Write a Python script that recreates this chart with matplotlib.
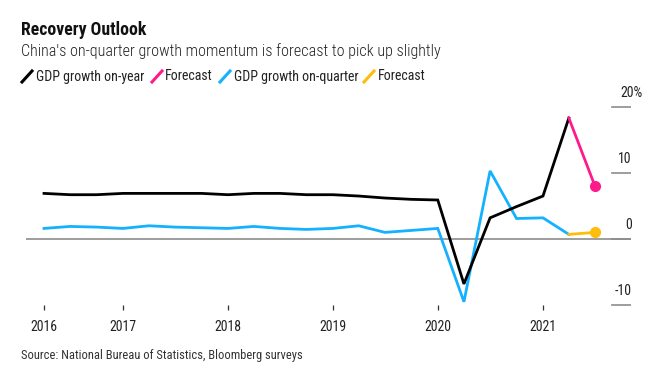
import matplotlib
matplotlib.use('Agg')
import matplotlib.pyplot as plt
import matplotlib.dates as mdates
from matplotlib.lines import Line2D
from matplotlib import font_manager
import pandas as pd

names = {f.name for f in font_manager.fontManager.ttflist}
narrow = [n for n in ['Roboto Condensed', 'Liberation Sans Narrow', 'Open Sans Condensed'] if n in names]
plt.rcParams['font.family'] = narrow + ['Roboto', 'DejaVu Sans']

# quarterly data, Q1 2016 .. Q1 2021 (quarter-end dates)
quarters = pd.date_range('2016-03-31', periods=21, freq='QE')
yoy = [6.9, 6.7, 6.7, 6.9, 6.9, 6.9, 6.9, 6.7, 6.9, 6.9, 6.7, 6.7,
       6.5, 6.2, 6.0, 5.9, -6.8, 3.2, 4.9, 6.5, 18.3]
qoq = [1.6, 1.9, 1.8, 1.6, 2.0, 1.8, 1.7, 1.6, 1.9, 1.6, 1.45, 1.6,
       2.0, 1.0, 1.3, 1.6, -9.5, 10.3, 3.1, 3.2, 0.7]
forecast_date = pd.Timestamp('2021-06-30')
yoy_forecast = 8.0
qoq_forecast = 1.0

year_ticks = [pd.Timestamp('2016-03-31')] + [pd.Timestamp(f'{y}-01-01') for y in range(2017, 2022)]
year_labels = ['2016', '2017', '2018', '2019', '2020', '2021']
y_ticks = [20, 10, 0, -10]
y_labels = ['20%', '10', '0', '-10']

BLACK = '#000000'
PINK = '#ff1a8c'
BLUE = '#14b1ff'
YELLOW = '#fdbd0a'
GRAY = '#8c8c8c'

W, H = 656, 383
fig = plt.figure(figsize=(W / 100, H / 100), dpi=100)


def fx(px):
    return px / W


def fy(py):
    return 1 - py / H


ax = fig.add_axes([fx(26), fy(310), (631 - 26) / W, (310 - 100) / H])

ax.axhline(0, color=GRAY, lw=1.2, zorder=1)
for v in y_ticks:
    ax.axhline(v, xmin=(612 - 26) / 605, xmax=1.0, color=GRAY, lw=1.2, zorder=1)

ax.plot(quarters, qoq, color=BLUE, lw=2.0, solid_joinstyle='miter', zorder=3)
ax.plot(quarters, yoy, color=BLACK, lw=2.0, solid_joinstyle='miter', zorder=4)
ax.plot([quarters[-1], forecast_date], [yoy[-1], yoy_forecast], color=PINK, lw=2.0, zorder=4)
ax.plot([forecast_date], [yoy_forecast], 'o', color=PINK, ms=7, zorder=5)
ax.plot([quarters[-1], forecast_date], [qoq[-1], qoq_forecast], color=YELLOW, lw=2.0, zorder=4)
ax.plot([forecast_date], [qoq_forecast], 'o', color=YELLOW, ms=7, zorder=5)

# axis limits derived from pixel layout
d0 = mdates.date2num(quarters[0])
d1 = mdates.date2num(forecast_date)
ppd = (595 - 44) / (d1 - d0)
ax.set_xlim(d0 - 18 / ppd, d1 + 36 / ppd)
ax.set_ylim((239 - 310) / 6.61, (239 - 100) / 6.61)

ax.set_xticks([mdates.date2num(d) for d in year_ticks])
ax.set_xticklabels(year_labels, fontsize=10, color='#222222')
ax.tick_params(axis='x', direction='in', length=3.6, width=0.9, color='#333333', pad=7)
ax.set_yticks([])
for s in ax.spines.values():
    s.set_visible(False)

for v, lab in zip(y_ticks, y_labels):
    xr = 1.0015 if not lab.endswith('%') else (643 - 26) / 605
    ax.annotate(lab, xy=(xr, v), xycoords=ax.get_yaxis_transform(),
                xytext=(0, 10), textcoords='offset points',
                ha='right', va='center', fontsize=10, color='#222222')

# titles
fig.text(fx(21), fy(30), 'Recovery Outlook', fontsize=12.8, fontweight='bold',
         color='#111111', va='center', ha='left')
fig.text(fx(21), fy(51), "China's on-quarter growth momentum is forecast to pick up slightly",
         fontsize=11.6, fontweight='light', color='#222222', va='center', ha='left')

# legend
legend_items = [(22, 36, BLACK, 'GDP growth on-year'),
                (152, 165, PINK, 'Forecast'),
                (220, 234, BLUE, 'GDP growth on-quarter'),
                (364, 378, YELLOW, 'Forecast')]
for sx, tx, col, label in legend_items:
    fig.add_artist(Line2D([fx(sx), fx(sx + 10)], [fy(82), fy(71)], color=col, lw=2.2,
                          transform=fig.transFigure))
    fig.text(fx(tx), fy(76.5), label, fontsize=10, color='#222222', va='center', ha='left')

fig.text(fx(21), fy(355), 'Source: National Bureau of Statistics, Bloomberg surveys',
         fontsize=9, color='#333333', va='center', ha='left')

fig.savefig('out.png', dpi=100)
